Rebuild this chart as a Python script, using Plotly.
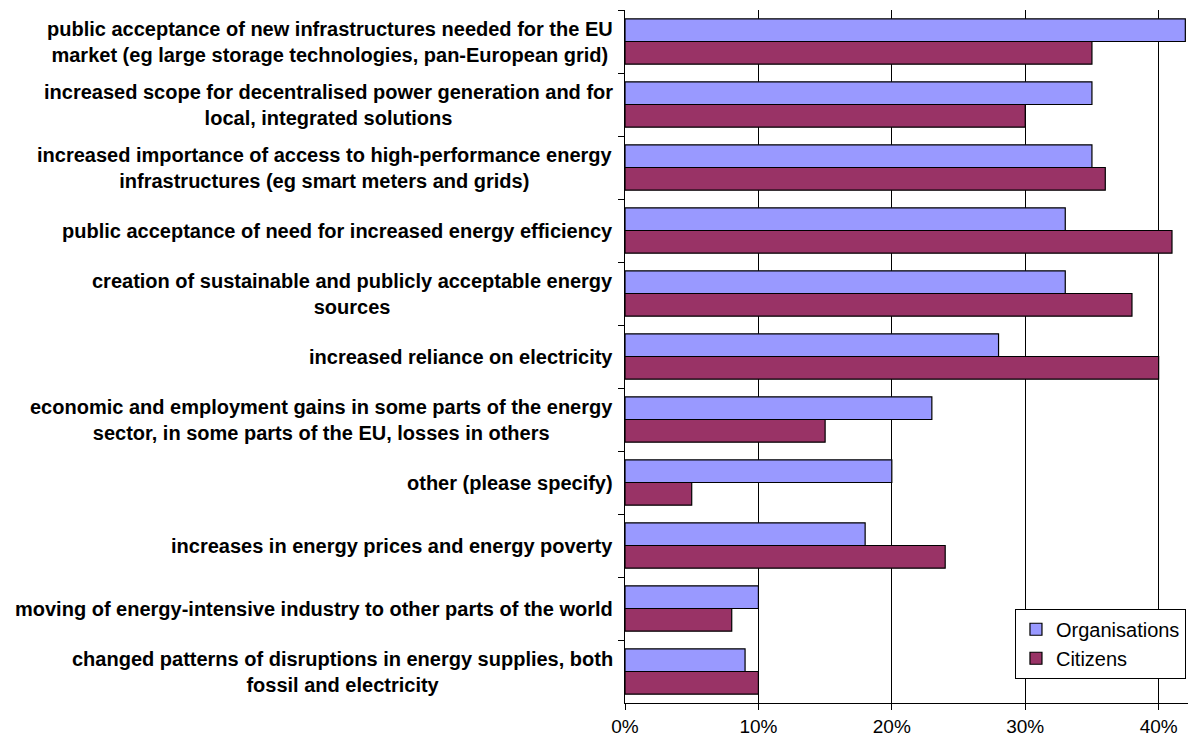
import plotly.graph_objects as go

categories = [
    "public acceptance of new infrastructures needed for the EU<br>market (eg large storage technologies, pan-European grid)",
    "increased scope for decentralised power generation and for<br>local, integrated solutions",
    "increased importance of access to high-performance energy<br>infrastructures (eg smart meters and grids)",
    "public acceptance of need for increased energy efficiency",
    "creation of sustainable and publicly acceptable energy<br>sources",
    "increased reliance on electricity",
    "economic and employment gains in some parts of the energy<br>sector, in some parts of the EU, losses in others",
    "other (please specify)",
    "increases in energy prices and energy poverty",
    "moving of energy-intensive industry to other parts of the world",
    "changed patterns of disruptions in energy supplies, both<br>fossil and electricity",
]
organisations = [0.42, 0.35, 0.35, 0.33, 0.33, 0.28, 0.23, 0.20, 0.18, 0.10, 0.09]
citizens = [0.35, 0.30, 0.36, 0.41, 0.38, 0.40, 0.15, 0.05, 0.24, 0.08, 0.10]
x_ticks = [0, 0.1, 0.2, 0.3, 0.4]
x_tick_labels = ["0%", "10%", "20%", "30%", "40%"]

font_family = "Liberation Sans, Arial, sans-serif"

fig = go.Figure()
fig.add_trace(go.Bar(
    y=categories, x=organisations, orientation="h", name="Organisations",
    marker=dict(color="#9999FF", line=dict(color="black", width=1.2)),
))
fig.add_trace(go.Bar(
    y=categories, x=citizens, orientation="h", name="Citizens",
    marker=dict(color="#993366", line=dict(color="black", width=1.2)),
))

for c in categories:
    fig.add_annotation(
        x=0, xref="paper", y=c, yref="y", text="<b>" + c + "</b>",
        showarrow=False, xanchor="right", yanchor="middle", align="center",
        xshift=-10, font=dict(family=font_family, size=20, color="black"),
    )

fig.update_layout(
    width=1190, height=740,
    margin=dict(l=625, r=2, t=10, b=37),
    paper_bgcolor="white", plot_bgcolor="white",
    barmode="group", bargap=0.28, bargroupgap=0,
    showlegend=True,
    legend=dict(
        x=0.9964, y=0.136, xanchor="right", yanchor="top",
        bgcolor="white", bordercolor="black", borderwidth=1,
        font=dict(family=font_family, size=20, color="black"),
        traceorder="normal", itemwidth=30, tracegroupgap=0,
    ),
    font=dict(family=font_family, color="black"),
)
fig.update_xaxes(
    range=[0, 0.422], tickvals=x_ticks, ticktext=x_tick_labels,
    showgrid=True, gridcolor="black", gridwidth=1,
    showline=True, linecolor="black", linewidth=1,
    ticks="outside", ticklen=6, tickcolor="black",
    tickfont=dict(family=font_family, size=19, color="black"),
    zeroline=False, fixedrange=True,
)
fig.update_yaxes(
    autorange="reversed", type="category",
    showticklabels=False, tickson="boundaries",
    ticks="outside", ticklen=6, tickcolor="black",
    showline=True, linecolor="black", linewidth=1,
    showgrid=False, zeroline=False, fixedrange=True,
)

fig.write_html(
    "out.html",
    config={"displayModeBar": False},
    post_script="document.body.style.margin='0';document.body.style.overflow='hidden';",
)
